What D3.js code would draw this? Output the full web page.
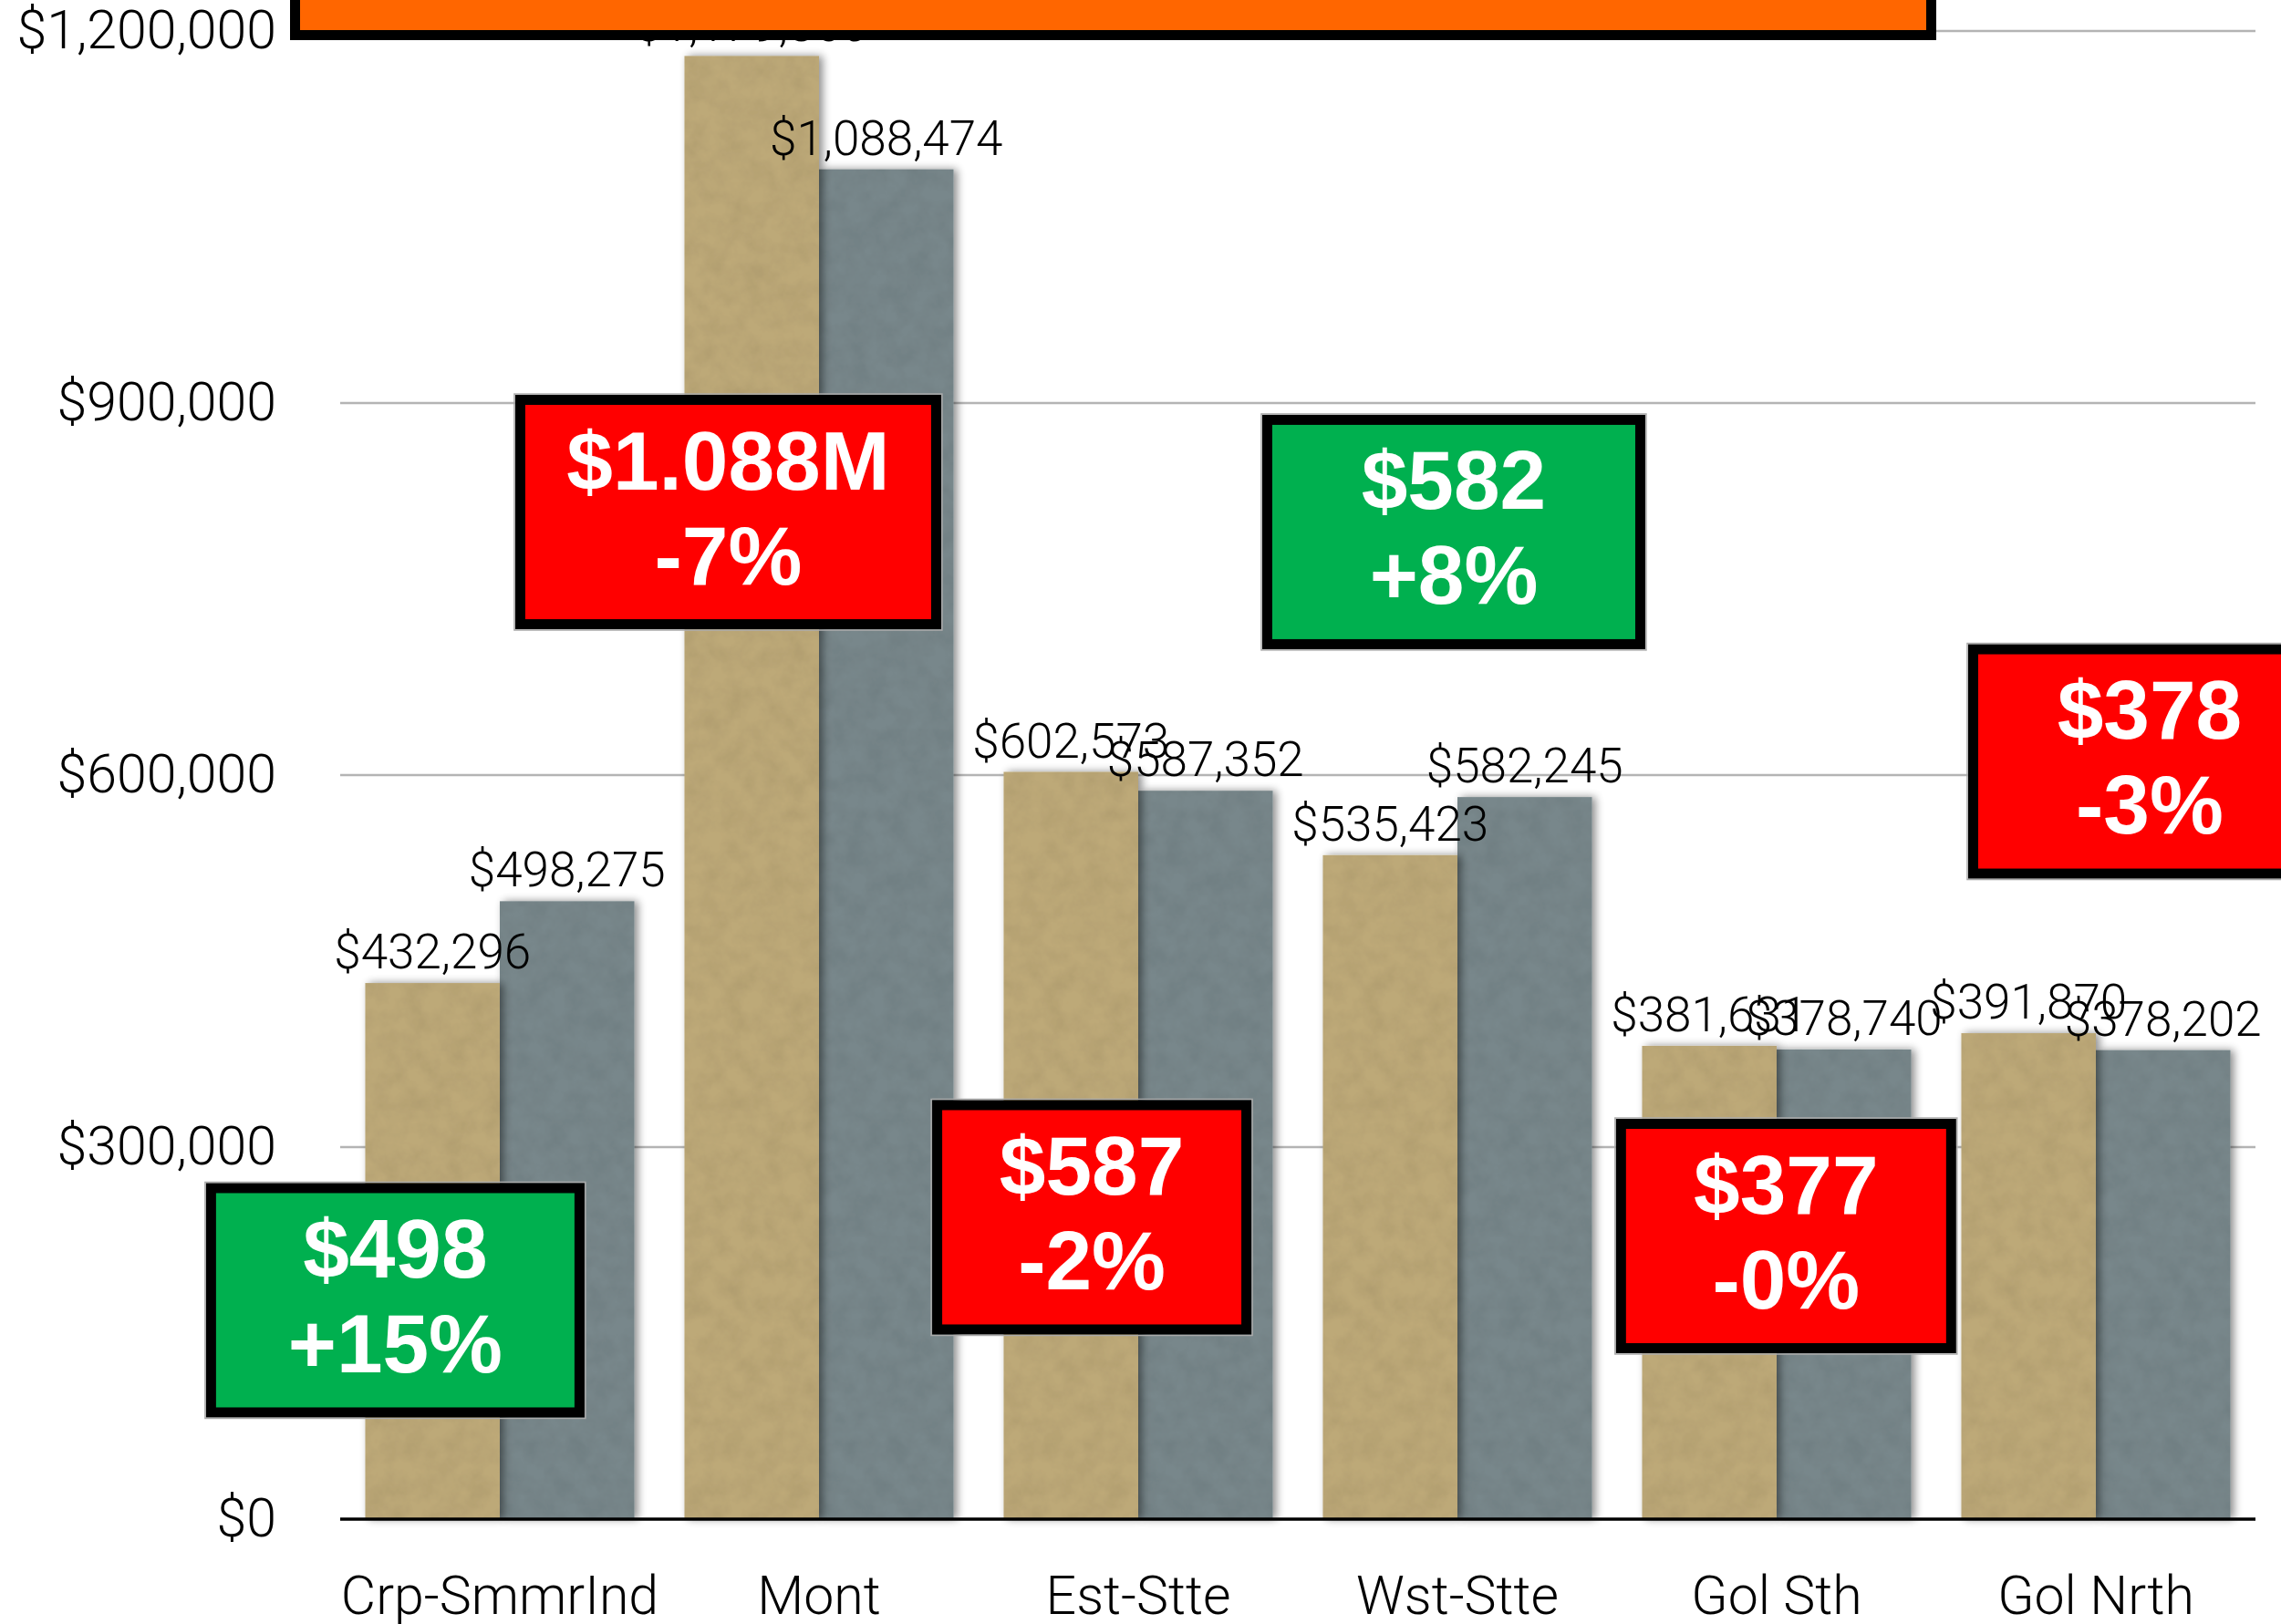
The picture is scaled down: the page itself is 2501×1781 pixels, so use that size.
<!DOCTYPE html>
<html>
<head>
<meta charset="utf-8">
<title>Regional totals</title>
<script src="https://d3js.org/d3.v7.min.js"></script>
<style>
  body { margin: 0; background: #fff; }
  .axis text { font-family: Roboto, "Liberation Sans", sans-serif; font-weight: 300; font-size: 59px; fill: #000; }
  .val { font-family: Roboto, "Liberation Sans", sans-serif; font-weight: 300; font-size: 53px; fill: #000; }
  .note { font-family: "Liberation Sans", Arial, sans-serif; font-weight: bold; font-size: 91px; fill: #fff; }
</style>
</head>
<body>
<div id="chart"></div>
<script>
// data
var categories = ["Crp-SmmrInd", "Mont", "Est-Stte", "Wst-Stte", "Gol Sth", "Gol Nrth"];
var seriesNames = ["prior", "current"];
var priorValues = [432296, 1179860, 602573, 535423, 381631, 391870];
var currentValues = [498275, 1088474, 587352, 582245, 378740, 378202];
var yTicks = [0, 300000, 600000, 900000, 1200000];

// call-out boxes: text and which group they belong to
var noteCats = ["Crp-SmmrInd", "Mont", "Wst-Stte", "Est-Stte", "Gol Sth", "Gol Nrth"];
var noteLine1 = ["$498", "$1.088M", "$582", "$587", "$377", "$378"];
var noteLine2 = ["+15%", "-7%", "+8%", "-2%", "-0%", "-3%"];
var noteUp = [true, false, true, false, false, false];

// call-out placement (layout only): shift in band steps, level in $ , box width px
var noteShift = [0.094, 0.137, 0.41, 0.276, 0.451, 0.59];
var noteLevel = [176500, 812100, 796000, 243400, 228300, 611000];
var noteWidth = [415, 467, 420, 350, 373, 398];

var W = 2501, H = 1781;
var plotLeft = 373, plotRight = 2473, plotBase = 1666, plotTop = 34;

var svg = d3.select("#chart").append("svg")
    .attr("width", W)
    .attr("height", H);

// paper-like texture plus a soft shadow for the bars
var defs = svg.append("defs");
var f = defs.append("filter").attr("id", "paper")
    .attr("x", "-10%").attr("y", "-5%").attr("width", "125%").attr("height", "110%");
f.append("feTurbulence").attr("type", "fractalNoise").attr("baseFrequency", "0.045")
    .attr("numOctaves", 4).attr("seed", 7).attr("result", "noise");
f.append("feColorMatrix").attr("in", "noise").attr("type", "matrix")
    .attr("values", "0 0 0 0 0  0 0 0 0 0  0 0 0 0 0  0.22 0 0 0 -0.07").attr("result", "dark");
f.append("feComposite").attr("in", "dark").attr("in2", "SourceGraphic").attr("operator", "in").attr("result", "tex");
f.append("feGaussianBlur").attr("in", "SourceAlpha").attr("stdDeviation", 5).attr("result", "blur");
f.append("feOffset").attr("in", "blur").attr("dx", 4).attr("dy", 0).attr("result", "off");
f.append("feComponentTransfer").attr("in", "off").attr("result", "shadow")
  .append("feFuncA").attr("type", "linear").attr("slope", 0.45);
var m = f.append("feMerge");
m.append("feMergeNode").attr("in", "shadow");
m.append("feMergeNode").attr("in", "SourceGraphic");
m.append("feMergeNode").attr("in", "tex");

var lineBlur = defs.append("filter").attr("id", "soft").attr("y", "-300%").attr("height", "700%");
lineBlur.append("feGaussianBlur").attr("stdDeviation", 3);

var x = d3.scaleBand().domain(categories).range([plotLeft, plotRight]).paddingInner(0.157).paddingOuter(0.0785);
var x1 = d3.scaleBand().domain(seriesNames).range([0, x.bandwidth()]);
var y = d3.scaleLinear().domain([0, 1200000]).range([plotBase, plotTop]);
var color = d3.scaleOrdinal().domain(seriesNames).range(["#bda978", "#78878b"]);
var money = function(v) { return "$" + d3.format(",")(v); };

var rows = categories.map(function(c, i) {
  return { cat: c, values: [
    { key: "prior", v: priorValues[i] },
    { key: "current", v: currentValues[i] }
  ] };
});

// grid
svg.append("g").selectAll("line")
  .data(yTicks.filter(function(t) { return t > 0; }))
  .enter().append("line")
    .attr("x1", plotLeft).attr("x2", plotRight)
    .attr("y1", function(d) { return y(d); }).attr("y2", function(d) { return y(d); })
    .attr("stroke", "#b4b4b4").attr("stroke-width", 2.5);

// y axis labels
var yAxis = svg.append("g").attr("class", "axis")
    .attr("transform", "translate(" + plotLeft + ",0)")
    .call(d3.axisLeft(y).tickValues(yTicks).tickFormat(money).tickSize(0).tickPadding(70));
yAxis.select(".domain").remove();

// bars: grey first so tan casts its shadow over it
var groups = svg.append("g").selectAll("g")
  .data(rows).enter().append("g")
    .attr("transform", function(d) { return "translate(" + x(d.cat) + ",0)"; });

groups.selectAll("rect")
  .data(function(d) { return d.values.slice().reverse(); })
  .enter().append("rect")
    .attr("x", function(d) { return x1(d.key); })
    .attr("width", x1.bandwidth())
    .attr("y", function(d) { return y(d.v); })
    .attr("height", function(d) { return plotBase - y(d.v); })
    .attr("fill", function(d) { return color(d.key); })
    .attr("filter", "url(#paper)");

// baseline
svg.append("line").attr("x1", plotLeft).attr("x2", plotRight)
    .attr("y1", plotBase + 6).attr("y2", plotBase + 6)
    .attr("stroke", "#aaa").attr("stroke-width", 4).attr("filter", "url(#soft)");
svg.append("line").attr("x1", plotLeft).attr("x2", plotRight)
    .attr("y1", plotBase).attr("y2", plotBase)
    .attr("stroke", "#000").attr("stroke-width", 3.5);

// category labels
var xAxis = svg.append("g").attr("class", "axis")
    .attr("transform", "translate(0," + plotBase + ")")
    .call(d3.axisBottom(x).tickSize(0).tickPadding(62));
xAxis.select(".domain").remove();

// value labels
groups.selectAll("text.val")
  .data(function(d) { return d.values; })
  .enter().append("text")
    .attr("class", "val")
    .attr("text-anchor", "middle")
    .attr("x", function(d) { return x1(d.key) + x1.bandwidth() / 2; })
    .attr("y", function(d) { return y(d.v) - 16; })
    .text(function(d) { return money(d.v); });

// call-out boxes
var boxH = 257;
noteCats.forEach(function(c, i) {
  var cx = x(c) + x.step() * noteShift[i];
  var cy = y(noteLevel[i]);
  var w = noteWidth[i];
  var g = svg.append("g");
  g.append("rect")
    .attr("x", cx - w / 2 - 1).attr("y", cy - boxH / 2 - 1)
    .attr("width", w + 2).attr("height", boxH + 2)
    .attr("fill", "none").attr("stroke", "#aaa").attr("stroke-width", 1.5);
  g.append("rect")
    .attr("x", cx - w / 2 + 5.5).attr("y", cy - boxH / 2 + 5.5)
    .attr("width", w - 11).attr("height", boxH - 11)
    .attr("fill", noteUp[i] ? "#00b04f" : "#ff0000")
    .attr("stroke", "#000").attr("stroke-width", 11);
  g.append("text").attr("class", "note").attr("text-anchor", "middle")
    .attr("x", cx).attr("y", cy - 25).text(noteLine1[i]);
  g.append("text").attr("class", "note").attr("text-anchor", "middle")
    .attr("x", cx).attr("y", cy + 79).text(noteLine2[i]);
});

// title banner, mostly cropped off the top
svg.append("rect")
    .attr("x", 318 + 5.5).attr("y", -60)
    .attr("width", 2123 - 318 - 11).attr("height", 44 + 60 - 5.5)
    .attr("fill", "#ff6600").attr("stroke", "#000").attr("stroke-width", 11);
</script>
</body>
</html>
